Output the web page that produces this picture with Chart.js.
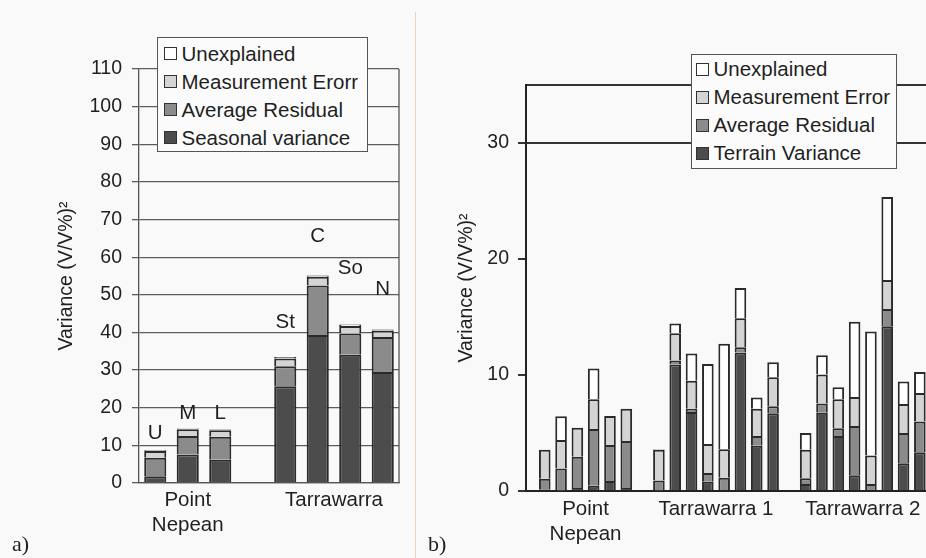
<!DOCTYPE html>
<html lang="en">
<head>
<meta charset="UTF-8" />
<title>Variance components</title>
<script src="https://cdn.jsdelivr.net/npm/chart.js"></script>
<style>
  html, body { margin: 0; padding: 0; }
  body {
    width: 926px; height: 558px; overflow: hidden; position: relative;
    background: #f9f9f9; color: #1f1f1f;
    font-family: "Liberation Sans", Arial, sans-serif;
  }
  canvas { position: absolute; top: 0; }
  #chartA { left: 0; }
  #chartB { left: 420px; }
  .legend {
    position: absolute; box-sizing: border-box;
    border: 1.5px solid #555; background: #fbfbfb;
    font-size: 20.5px;
  }
  .legend .row { height: 28px; display: flex; align-items: center; white-space: nowrap; }
  .legend .sw { box-sizing: border-box; width: 13px; height: 13px; border: 1.5px solid #333; margin-right: 5px; }
  #legendA { left: 157px; top: 37px; width: 211px; height: 115px; padding: 1.5px 0 0 5.5px; }
  #legendB { left: 691px; top: 54px; width: 206px; height: 115px; padding: 0 0 0 3.5px; }
  .tag { position: absolute; font-family: "Liberation Serif", "Times New Roman", serif; font-size: 22px; line-height: 22px; }
  #sep { position: absolute; left: 415px; top: 12px; width: 1px; height: 546px; background: #efcfc6; }
</style>
</head>
<body>
  <canvas id="chartA" width="412" height="558"></canvas>
  <canvas id="chartB" width="510" height="558"></canvas>
  <div id="sep"></div>
  <div class="legend" id="legendA"></div>
  <div class="legend" id="legendB"></div>
  <div class="tag" style="left:12px; top:533px;">a)</div>
  <div class="tag" style="left:428px; top:533px;">b)</div>

<script>
  // ---- panel a data ----
  const categoriesA = ['U', 'M', 'L', '', 'St', 'C', 'So', 'N'];
  const seasonalA = [1.8, 7.6, 6.2, null, 25.7, 39.3, 34.1, 29.5];
  const residualA = [4.9, 4.9, 6.1, null, 5.3, 13.2, 5.6, 9.3];
  const measErrA  = [1.8, 1.8, 1.7, null, 2.1, 2.3, 2.0, 1.7];
  const unexplA   = [0.2, 0.2, 0.2, null, 0.4, 0.3, 0.4, 0.3];
  const tagLevelA = [13.1, 18.6, 18.6, null, 42.6, 65.6, 57.0, 51.4];
  const groupsA = [
    { lines: ['Point', 'Nepean'], first: 0, last: 2 },
    { lines: ['Tarrawarra'], first: 4, last: 7 }
  ];
  const namesA = ['Seasonal variance', 'Average Residual', 'Measurement Erorr', 'Unexplained'];
  const ticksA = { min: 0, max: 110, step: 10 };

  // ---- panel b data ----
  const groupNamesB = [['Point', 'Nepean'], ['Tarrawarra 1'], ['Tarrawarra 2']];
  const groupSizesB = [6, 8, 8];
  const terrainB  = [0.15, 0.05, 0.25, 0.45, 0.87, 0.25,  0.05, 10.9, 6.8, 0.8, 0, 11.95, 3.9, 6.7,  0.6, 6.75, 4.75, 1.35, 0, 14.2, 2.4, 3.35];
  const residualB = [0.9, 1.9, 2.7, 4.9, 3.1, 4.05,  0.85, 0.35, 0.3, 0.75, 1.15, 0.45, 0.85, 0.6,  0.5, 0.8, 0.65, 4.25, 0.6, 1.5, 2.6, 2.65];
  const measErrB  = [2.5, 2.45, 2.5, 2.55, 2.5, 2.8,  2.65, 2.35, 2.4, 2.5, 2.45, 2.5, 2.35, 2.5,  2.45, 2.5, 2.5, 2.5, 2.45, 2.5, 2.5, 2.45];
  const unexplB   = [0, 2.05, 0, 2.65, 0, 0,  0.05, 0.85, 2.35, 6.9, 9.1, 2.6, 0.95, 1.3,  1.45, 1.65, 1.05, 6.5, 10.7, 7.15, 1.95, 1.8];
  const namesB = ['Terrain Variance', 'Average Residual', 'Measurement Error', 'Unexplained'];
  const ticksB = [0, 10, 20, 30, 35];
  const gridB = [30, 35];

  const fills = ['#4c4c4c', '#8b8b8b', '#d4d4d4', '#ffffff'];
  const edge = '#2a2a2a';
  const ink = '#1f1f1f';
  const axisTitle = 'Variance (V/V%)\u00b2';
  const FONT = '"Liberation Sans", Arial, sans-serif';

  Chart.defaults.font.family = FONT;
  Chart.defaults.color = ink;

  function buildLegend(id, names) {
    const box = document.getElementById(id);
    // top entry is the last stacked series
    for (let i = names.length - 1; i >= 0; i--) {
      const row = document.createElement('div');
      row.className = 'row';
      row.innerHTML = `<span class="sw" style="background:${fills[i]}"></span><span>${names[i]}</span>`;
      box.appendChild(row);
    }
  }

  function drawGroupLabels(chart, groups, xOf, y0) {
    const ctx = chart.ctx;
    ctx.save();
    ctx.font = '20.5px ' + FONT;
    ctx.fillStyle = ink;
    ctx.textAlign = 'center';
    ctx.textBaseline = 'middle';
    groups.forEach(g => {
      const cx = (xOf(g.first) + xOf(g.last)) / 2;
      g.lines.forEach((t, k) => ctx.fillText(t, cx, y0 + k * 25));
    });
    ctx.restore();
  }

  // ---- panel a ----
  const overlayA = {
    id: 'overlayA',
    afterDatasetsDraw(chart) {
      const { ctx, chartArea, scales } = chart;
      ctx.save();
      ctx.strokeStyle = '#555';
      ctx.lineWidth = 1.3;
      ctx.beginPath();
      ctx.moveTo(chartArea.right, chartArea.top);
      ctx.lineTo(chartArea.right, chartArea.bottom);
      ctx.stroke();

      ctx.font = '20.5px ' + FONT;
      ctx.fillStyle = ink;
      ctx.textAlign = 'center';
      ctx.textBaseline = 'middle';
      categoriesA.forEach((c, i) => {
        if (tagLevelA[i] === null) return;
        ctx.fillText(c, scales.x.getPixelForValue(i), scales.y.getPixelForValue(tagLevelA[i]));
      });
      ctx.restore();
      drawGroupLabels(chart, groupsA, i => scales.x.getPixelForValue(i), 500);
    }
  };

  const seriesA = [seasonalA, residualA, measErrA, unexplA];
  new Chart(document.getElementById('chartA'), {
    type: 'bar',
    data: {
      labels: categoriesA,
      datasets: seriesA.map((d, i) => ({
        label: namesA[i],
        data: d,
        backgroundColor: fills[i],
        borderColor: edge,
        borderWidth: 2,
        categoryPercentage: 0.8,
        barPercentage: 0.85
      }))
    },
    options: {
      responsive: false,
      animation: false,
      devicePixelRatio: 1,
      layout: { padding: { left: 0, top: 69, right: 13, bottom: 75 } },
      plugins: { legend: { display: false }, tooltip: { enabled: false } },
      scales: {
        x: {
          stacked: true,
          ticks: { display: false },
          grid: { display: false },
          border: { color: '#555', width: 1.3 },
          afterFit: s => { s.height = 0; }
        },
        y: {
          stacked: true,
          min: ticksA.min,
          max: ticksA.max,
          ticks: { stepSize: ticksA.step, padding: 10, font: { size: 19.5 }, color: ink },
          grid: { color: '#5c5c5c', lineWidth: 1.3, tickLength: 7 },
          border: { color: '#555', width: 1.3 },
          title: { display: true, text: axisTitle, font: { size: 19.5 }, padding: { top: 55, bottom: 0 } },
          afterFit: s => { s.width = 139; }
        }
      }
    },
    plugins: [overlayA]
  });

  // ---- panel b ----
  // slot index of every bar: one empty slot between sites
  const slotsB = [];
  groupSizesB.forEach((n, g) => {
    const start = groupSizesB.slice(0, g).reduce((a, b) => a + b, 0) + g;
    for (let k = 0; k < n; k++) slotsB.push(start + k);
  });
  const groupsB = groupNamesB.map((lines, g) => {
    const first = groupSizesB.slice(0, g).reduce((a, b) => a + b, 0);
    return { lines, first: slotsB[first], last: slotsB[first + groupSizesB[g] - 1] };
  });

  const overlayB = {
    id: 'overlayB',
    afterDatasetsDraw(chart) {
      drawGroupLabels(chart, groupsB, v => chart.scales.x.getPixelForValue(v), 509);
    }
  };

  const seriesB = [terrainB, residualB, measErrB, unexplB];
  new Chart(document.getElementById('chartB'), {
    type: 'bar',
    data: {
      datasets: seriesB.map((d, i) => ({
        label: namesB[i],
        data: d.map((v, k) => ({ x: slotsB[k], y: v })),
        backgroundColor: fills[i],
        borderColor: edge,
        borderWidth: 2,
        categoryPercentage: 0.8,
        barPercentage: 0.89
      }))
    },
    options: {
      responsive: false,
      animation: false,
      devicePixelRatio: 1,
      layout: { padding: { left: 0, top: 85, right: 2, bottom: 67 } },
      plugins: { legend: { display: false }, tooltip: { enabled: false } },
      scales: {
        x: {
          type: 'linear',
          stacked: true,
          offset: false,
          min: -1.15,
          max: 23.5,
          ticks: { display: false },
          grid: { display: false, offset: false },
          border: { color: '#222', width: 2 },
          afterFit: s => { s.height = 0; }
        },
        y: {
          stacked: true,
          min: 0,
          max: 35,
          afterBuildTicks: s => { s.ticks = ticksB.map(v => ({ value: v })); },
          ticks: {
            padding: 9, font: { size: 19.5 }, color: ink,
            callback: v => (v === 35 ? '' : v)
          },
          grid: {
            lineWidth: 2,
            tickLength: 8,
            color: c => (c.tick && gridB.includes(c.tick.value) ? '#333' : 'rgba(0,0,0,0)'),
            tickColor: c => (c.tick && c.tick.value === 35 ? 'rgba(0,0,0,0)' : '#333')
          },
          border: { color: '#222', width: 2 },
          title: { display: true, text: axisTitle, font: { size: 19.5 }, padding: { top: 35, bottom: 0 } },
          afterFit: s => { s.width = 106; }
        }
      }
    },
    plugins: [overlayB]
  });

  buildLegend('legendA', namesA);
  buildLegend('legendB', namesB);
</script>
</body>
</html>
